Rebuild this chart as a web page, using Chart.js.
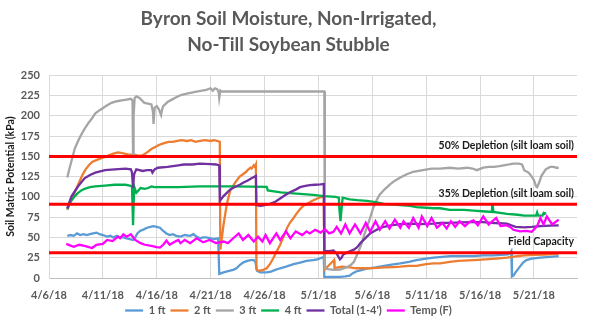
<!DOCTYPE html>
<html>
<head>
<meta charset="utf-8">
<script src="https://cdn.jsdelivr.net/npm/chart.js@4"></script>
<style>
  html, body { margin: 0; padding: 0; background: #fff; }
  #wrap { width: 603px; height: 328px; }
</style>
</head>
<body>
<div id="wrap"><canvas id="lineChart"></canvas></div>
<script>
// x values are days since 4/6/18
const dateLabels = ['4/6/18', '4/11/18', '4/16/18', '4/21/18', '4/26/18', '5/1/18', '5/6/18', '5/11/18', '5/16/18', '5/21/18'];
const seriesNames = ['1 ft', '2 ft', '3 ft', '4 ft', "Total (1-4')", 'Temp (F)'];

const ft1 = [[1.7,52],[2.0,53],[2.3,52],[2.6,55],[2.9,53],[3.2,54],[3.5,53],[3.8,54],[4.1,55],[4.4,56],[4.7,54],[5.0,53],[5.4,51],[5.7,52],[5.95,50],[6.3,52],[6.6,50],[6.9,50],[7.2,49],[7.5,48],[7.8,47],[8.0,50],[8.2,55],[8.45,58],[8.8,60],[9.1,62],[9.4,63],[9.7,64],[10.0,63],[10.3,62],[10.6,58],[10.9,55],[11.2,53],[11.5,54],[11.8,52],[12.2,51],[12.6,53],[13.1,52],[13.4,54],[13.7,51],[14.0,49],[14.3,50],[14.6,50],[15.0,49],[15.3,48],[15.7,49],[15.8,5],[16.2,7],[16.8,9],[17.1,10],[17.4,12],[17.7,16],[18.0,19],[18.4,21],[18.7,22],[19.0,22],[19.15,20],[19.3,9],[19.6,7],[20.2,7],[20.6,8],[21.0,10],[21.45,12],[22.0,14],[22.7,17],[23.3,19],[23.9,21],[24.5,22],[24.9,23],[25.3,25],[25.5,26],[25.55,1],[26.0,1.5],[26.4,1.5],[27.0,1.5],[27.5,2],[27.9,3],[28.2,6],[28.5,8],[28.9,9.5],[29.5,11.5],[30.3,13],[31.1,15],[31.8,16.5],[32.6,18],[33.4,20],[34.1,22],[35.0,24],[35.7,25],[36.5,26],[37.2,27],[38.2,27],[39.4,27],[40.3,28],[41.2,28],[42.0,28.5],[42.6,29],[42.8,31],[42.9,33],[42.96,2],[43.1,3],[43.3,7],[43.7,14],[44.0,19],[44.3,22],[44.8,24],[45.6,25],[46.5,26],[47.3,27]];

const ft2 = [[1.7,84],[2.0,95],[2.3,103],[2.8,118],[3.1,127],[3.4,134],[3.7,139],[4.0,143],[4.5,146],[5.0,148.5],[5.5,151],[5.9,153],[6.4,155],[6.8,154],[7.1,153],[7.5,152],[7.9,152],[8.3,151],[8.6,151],[8.9,153],[9.1,155],[9.5,159],[9.9,162],[10.2,164],[10.6,166],[11.1,168],[11.5,168],[11.9,169],[12.3,170],[12.8,169],[13.2,170],[13.6,168],[14.0,169],[14.5,170],[15.0,169],[15.3,170],[15.6,169],[15.85,168],[15.9,35],[16.0,45],[16.2,66],[16.5,91],[16.8,107],[17.1,114],[17.4,120],[17.7,125],[18.0,128],[18.3,131],[18.5,134],[18.7,136],[18.8,135],[19.0,139],[19.1,137],[19.2,140],[19.25,11],[19.4,9],[19.6,9],[19.9,10],[20.2,12],[20.5,17],[20.8,24],[21.1,32],[21.45,41],[21.8,52],[22.1,62],[22.4,69],[22.7,74],[23.0,80],[23.3,85],[23.6,89],[23.9,91],[24.4,95],[24.9,98],[25.3,100],[25.5,101],[25.55,10],[25.7,12],[26.0,16],[26.3,20],[26.45,22],[26.5,12],[26.8,13],[27.2,14],[27.9,13],[28.5,12],[29.5,12],[30.5,12.5],[31.1,13],[32.0,13.5],[32.6,14],[33.4,15],[34.1,15],[35.0,17],[35.7,18],[36.3,18],[37.2,20],[38.0,21],[39.4,22],[40.5,23],[41.5,24],[42.5,25],[43.5,27],[44.1,28],[45.0,28.5],[46.0,29],[47.3,30]];

const ft3 = [[1.7,124],[1.9,135],[2.1,145],[2.4,160],[2.7,169],[3.0,177],[3.3,184],[3.65,191],[4.0,197],[4.3,203],[4.7,207],[5.05,210],[5.4,213],[5.8,216],[6.3,218],[6.75,219],[7.2,220],[7.6,221],[7.75,219],[7.8,152],[7.85,200],[7.95,222],[8.1,224],[8.4,222],[8.85,216],[9.2,215],[9.5,214],[9.65,205],[9.7,190],[9.8,210],[10.0,212],[10.2,208],[10.4,201],[10.5,208],[10.6,212],[11.0,217],[11.4,220],[11.8,223],[12.3,226],[13.0,228],[13.7,230],[14.2,231],[14.6,232],[15.0,234],[15.2,231],[15.4,234],[15.6,233],[15.75,229],[15.8,222],[15.9,231],[16.0,230],[25.55,230],[25.6,12],[25.9,11],[26.4,10],[27.0,10.5],[27.6,13],[28.0,16],[28.3,20],[28.7,32],[29.0,42],[29.2,51],[29.7,70],[30.1,87],[30.4,96],[30.7,103],[31.2,110],[31.7,116],[32.1,120],[32.6,124],[33.2,128],[33.8,131],[34.7,133],[35.5,135],[36.3,135],[37.2,136],[38.0,135],[38.8,136],[39.3,135],[39.7,133],[40.3,136],[40.8,137],[41.3,137],[41.8,138],[42.2,139],[42.7,140],[43.1,141],[43.6,141],[43.9,140],[44.1,133],[44.5,130],[44.8,125],[45.0,121],[45.2,113],[45.3,112],[45.5,118],[45.7,126],[46.1,134],[46.5,137],[46.8,137],[47.1,136],[47.3,136]];

const ft4 = [[1.7,85],[1.9,91],[2.1,96],[2.4,101],[2.7,105],[3.0,108],[3.3,110],[3.8,112],[4.3,113],[5.2,114],[6.1,115],[7.1,115],[7.5,114],[7.7,113],[7.8,65],[7.9,113],[8.1,105],[8.3,108],[8.5,111],[8.9,110],[9.2,111],[9.5,113],[9.8,112],[10.2,112],[12.0,112],[14.0,113],[17.0,113],[20.2,112.5],[20.3,108],[21.5,105.5],[23.0,104],[24.5,102.5],[25.5,101],[26.6,100],[26.9,99],[26.95,85],[27.05,70],[27.15,85],[27.25,99],[27.9,97],[28.6,96],[29.5,95],[30.3,93.5],[31.1,91.5],[32.6,90],[33.5,89],[34.1,87.5],[35.7,86],[36.3,86],[37.2,84],[38.5,84],[39.4,83],[40.5,82],[41.1,81.5],[41.15,92],[41.25,81.5],[42.5,79],[43.5,78],[44.1,77],[45.2,77],[45.3,81],[45.4,77],[45.8,77],[45.9,80],[46.0,79],[46.1,81]];

const total = [[1.7,86],[1.9,94],[2.1,101],[2.4,107],[2.7,113],[3.0,118],[3.3,123],[3.8,127],[4.3,130],[5.2,133],[6.1,134],[7.1,135],[7.6,134],[7.7,130],[7.8,111],[7.9,128],[8.1,134],[8.7,132],[9.1,133],[9.5,133],[9.6,130],[9.8,134],[10.1,136],[11.0,137],[12.0,139],[12.5,140],[13.3,140],[14.0,141],[15.0,140.5],[15.5,140],[15.8,139],[15.85,95],[16.2,101],[16.5,105],[16.8,109],[17.2,112],[17.7,115],[18.1,118],[18.4,120],[18.8,123],[19.2,126],[19.25,90],[19.6,89],[19.9,89.5],[20.5,91.5],[21.0,94],[21.45,98],[21.9,102],[22.4,106],[22.9,109],[23.3,112],[23.8,113.5],[24.2,114.5],[24.7,115],[25.2,115.5],[25.5,116],[25.55,33],[26.0,33],[26.4,34],[26.7,30],[27.0,23],[27.15,25],[27.3,29],[27.6,31],[27.9,33],[28.3,35],[28.6,38],[28.9,43],[29.2,47],[29.5,51],[29.8,55],[30.2,58],[30.7,61.5],[31.2,63.5],[31.7,65],[32.6,66.5],[33.5,67],[34.5,66.5],[35.7,67],[36.3,68],[37.2,68],[38.2,68.5],[39.4,69],[40.3,69],[41.0,68],[41.8,67.5],[42.5,67],[42.9,65],[43.3,63],[44.1,62.5],[44.8,63],[45.6,64],[46.5,64.5],[47.3,65]];

const temp = [[1.6,42],[2.0,40],[2.3,38.5],[2.8,41],[3.3,39.5],[3.7,38],[4.0,37],[4.4,41],[5.0,42],[5.4,47],[5.9,45.5],[6.4,51],[6.6,49],[6.9,54],[7.2,51],[7.6,54],[8.0,47],[8.5,43],[8.9,41],[9.5,39.5],[10.0,38],[10.3,37.5],[10.6,41],[10.9,46],[11.2,41],[11.7,45],[12.0,47],[12.2,43],[12.6,47],[13.1,43],[13.7,49],[14.3,44],[14.9,47],[15.5,43],[16.2,45],[16.6,43],[17.1,49],[17.6,55],[18.0,47],[18.5,53],[19.0,45],[19.4,51],[19.8,45],[20.1,53],[20.5,43],[21.1,55],[21.45,47],[22.0,57.5],[22.4,49],[22.9,57.5],[23.5,53],[23.9,57.5],[24.2,55],[24.7,59.5],[25.2,56],[25.6,60],[26.0,55],[26.4,57],[26.7,63],[27.1,55],[27.5,66],[27.9,55],[28.4,66],[28.9,55],[29.4,68],[29.8,57],[30.3,70],[30.7,59.5],[31.2,70],[31.6,61],[32.1,72],[32.6,62],[32.9,70],[33.4,62],[33.8,74],[34.3,62],[34.6,76],[35.1,64],[35.5,74],[36.0,62],[36.5,68],[36.9,61],[37.3,70],[37.7,63],[38.1,70],[38.6,64],[39.0,69],[39.4,71],[39.8,65],[40.3,76],[40.8,66],[41.5,74],[41.9,64],[42.4,65],[42.8,63],[43.1,59.5],[43.7,57.5],[44.3,58],[44.8,57],[45.3,64],[45.6,74],[45.9,66],[46.2,76],[46.7,66],[47.3,72]];

// reference levels (kPa) and their captions
const refLevels = [150, 91, 31];
const refCaptions = ['50% Depletion (silt loam soil)', '35% Depletion (silt loam soil)', 'Field Capacity'];

const colors = ['#5B9BD5', '#ED7D31', '#A5A5A5', '#00B050', '#7030A0', '#FF00FF'];
const FONT = 'Lato, "Liberation Sans", sans-serif';
const TXT = '#595959';

function toPoints(arr) {
  return arr.map(function (p) { return { x: p[0], y: p[1] }; });
}

const seriesData = [ft1, ft2, ft3, ft4, total, temp];

const datasets = seriesData.map(function (arr, i) {
  return {
    label: seriesNames[i],
    data: toPoints(arr),
    borderColor: colors[i],
    backgroundColor: colors[i],
    borderWidth: 2.3,
    pointRadius: 0,
    fill: false,
    tension: 0,
    order: 6 - i   // later series drawn on top
  };
});

refLevels.forEach(function (v) {
  datasets.push({
    label: 'ref',
    data: [{ x: 0, y: v }, { x: 49, y: v }],
    borderColor: '#FF0000',
    borderWidth: 3,
    pointRadius: 0,
    fill: false,
    order: 0
  });
});

// captions above the red reference lines
const refLabels = {
  id: 'refLabels',
  afterDatasetsDraw(chart) {
    const ctx = chart.ctx;
    const y = chart.scales.y;
    ctx.save();
    ctx.font = 'bold 10.5px ' + FONT;
    ctx.fillStyle = '#1a1a1a';
    ctx.textAlign = 'right';
    ctx.textBaseline = 'middle';
    refLevels.forEach(function (v, i) {
      ctx.fillText(refCaptions[i], chart.chartArea.right - 3, y.getPixelForValue(v) - 11);
    });
    ctx.restore();
  }
};

new Chart(document.getElementById('lineChart'), {
  type: 'line',
  data: { datasets: datasets },
  plugins: [refLabels],
  options: {
    responsive: true,
    maintainAspectRatio: false,
    animation: false,
    layout: { padding: { left: 0, right: 26, top: 0, bottom: 2 } },
    scales: {
      x: {
        type: 'linear',
        min: 0,
        max: 49,
        grid: { color: '#D9D9D9', drawTicks: false },
        border: { color: '#BFBFBF' },
        ticks: {
          stepSize: 5,
          includeBounds: false,
          autoSkip: false,
          maxRotation: 0,
          padding: 11,
          color: TXT,
          font: { family: FONT, size: 11, weight: 'bold' },
          callback: function (v) { return dateLabels[v / 5]; }
        },
        afterFit: function (scale) { scale.height = 22; }
      },
      y: {
        min: 0,
        max: 250,
        grid: { color: '#D9D9D9', drawTicks: false },
        border: { color: '#D9D9D9' },
        ticks: {
          stepSize: 25,
          padding: 9,
          color: TXT,
          font: { family: FONT, size: 11, weight: 'bold' }
        },
        title: {
          display: true,
          text: 'Soil Matric Potential (kPa)',
          color: '#1a1a1a',
          padding: { top: 4, bottom: 0 },
          font: { family: FONT, size: 10.5, weight: 'bold' }
        },
        afterFit: function (scale) { scale.width = 49; }
      }
    },
    plugins: {
      title: {
        display: true,
        text: ['Byron Soil Moisture, Non-Irrigated,', 'No-Till Soybean Stubble'],
        color: TXT,
        font: { family: FONT, size: 19, weight: 'bold', lineHeight: 1.35 },
        padding: { top: 6, bottom: 18 }
      },
      legend: {
        position: 'bottom',
        labels: {
          usePointStyle: true,
          pointStyle: 'line',
          pointStyleWidth: 18,
          boxHeight: 11,
          padding: 5,
          color: TXT,
          font: { family: FONT, size: 11, weight: 'bold' },
          filter: function (item) { return item.text !== 'ref'; },
          sort: function (a, b) { return a.datasetIndex - b.datasetIndex; }
        }
      },
      tooltip: { enabled: false }
    }
  }
});
</script>
</body>
</html>
